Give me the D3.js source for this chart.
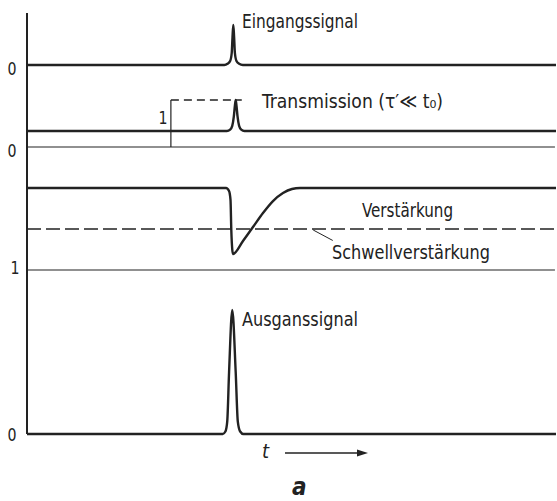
<!DOCTYPE html>
<html><head><meta charset="utf-8">
<script src="https://cdn.jsdelivr.net/npm/d3@7"></script>
<style>
html,body{margin:0;padding:0;background:#fff;}
svg text{font-family:"DejaVu Sans Condensed","Liberation Sans Narrow",sans-serif;fill:#222;}
</style></head><body>
<svg id="c" width="557" height="501"></svg>
<script>
// ---- data ----
const inputT = [0, 37.3, 37.9, 38.4, 38.7, 38.85, 39.0, 39.15, 39.3, 39.6, 40.1, 40.8, 100];
const inputV = [0, 0, 0.03, 0.1, 0.3, 0.7, 1.0, 0.7, 0.3, 0.1, 0.03, 0, 0];

const transT = [0, 37.8, 38.4, 38.8, 39.1, 39.3, 39.45, 39.6, 39.8, 40.1, 40.5, 41.1, 100];
const transV = [0.34, 0.34, 0.37, 0.45, 0.65, 0.88, 1.0, 0.88, 0.65, 0.45, 0.37, 0.34, 0.34];
const stepT = [27.2, 40.6];     // dashed "1" level of transmission
const transOne = 1;

const gainT = [0, 37.62, 38.19, 38.47, 38.62, 38.81, 38.94, 40.83, 42.72, 44.61, 46.5, 48.39, 50.09, 51.6, 100];
const gainV = [2.0, 2.0, 1.963, 1.854, 1.488, 1.244, 1.195, 1.354, 1.524, 1.695, 1.841, 1.939, 1.988, 2.0, 2.0];
const thresholdGain = 1.5;
const gainOne = 1;

const outT = [0, 37.0, 37.5, 37.85, 38.2, 38.8, 39.45, 39.85, 40.3, 40.9, 100];
const outV = [0, 0, 0.02, 0.1, 0.5, 1.0, 0.5, 0.1, 0.02, 0, 0];

const labels = {
  input: "Eingangssignal",
  trans: "Transmission (\u03c4\u2032\u226a t\u2080)",
  gain: "Verstärkung",
  thr: "Schwellverstärkung",
  out: "Ausganssignal"
};

// ---- scales ----
const x = d3.scaleLinear().domain([0, 100]).range([27, 556]);
const y1 = d3.scaleLinear().domain([0, 1]).range([65, 25]);
const y2 = d3.scaleLinear().domain([0, 1]).range([147, 100]);
const y3 = d3.scaleLinear().domain([1, 2]).range([270, 188]);
const y4 = d3.scaleLinear().domain([0, 1]).range([434, 310]);

const svg = d3.select("#c");
const ink = "#222";

function curve(T, V, ys, w) {
  const pts = T.map((t, i) => [t, V[i]]);
  svg.append("path").datum(pts)
    .attr("d", d3.line().x(d => x(d[0])).y(d => ys(d[1])).curve(d3.curveMonotoneX))
    .attr("fill", "none").attr("stroke", ink).attr("stroke-width", w)
    .attr("stroke-linejoin", "round");
}
function hline(t0, t1, ys, v, w, dash) {
  const l = svg.append("line")
    .attr("x1", x(t0)).attr("x2", x(t1)).attr("y1", ys(v)).attr("y2", ys(v))
    .attr("stroke", ink).attr("stroke-width", w);
  if (dash) l.attr("stroke-dasharray", dash);
}

// vertical axis
svg.append("line").attr("x1", x(0)).attr("x2", x(0)).attr("y1", 13).attr("y2", y4(0))
  .attr("stroke", ink).attr("stroke-width", 2);

// panel 1
curve(inputT, inputV, y1, 2.4);

// panel 2
hline(0, 99.8, y2, 0, 1.2);
svg.append("line").attr("x1", x(stepT[0])).attr("x2", x(stepT[0]))
  .attr("y1", y2(0)).attr("y2", y2(transOne)).attr("stroke", ink).attr("stroke-width", 1.2);
hline(stepT[0], stepT[1], y2, transOne, 1.3, "8,5");
curve(transT, transV, y2, 2.4);

// panel 3
hline(0, 99.8, y3, gainOne, 1.2);
hline(0, 100, y3, thresholdGain, 1.3, "14,5");
curve(gainT, gainV, y3, 2.4);
svg.append("line").attr("x1", x(54.1)).attr("y1", y3(thresholdGain) + 1)
  .attr("x2", x(57.8)).attr("y2", y3(1.36)).attr("stroke", ink).attr("stroke-width", 1);

// panel 4
curve(outT, outV, y4, 2.4);

// tick labels
function tick(txt, px, py) {
  svg.append("text").attr("x", px).attr("y", py).attr("text-anchor", "middle")
    .attr("dominant-baseline", "central").attr("font-size", 18)
    .attr("textLength", 9).attr("lengthAdjust", "spacingAndGlyphs").text(txt);
}
tick("0", 12, y1(0) + 3);
tick("0", 12, y2(0) + 3);
tick("1", x(stepT[0]) - 8, y2(0.62));
tick("1", 15, y3(gainOne) - 3);
tick("0", 12, y4(0));

// series labels
function label(txt, px, py, len, size) {
  return svg.append("text").attr("x", px).attr("y", py).attr("font-size", size || 20)
    .attr("textLength", len).attr("lengthAdjust", "spacingAndGlyphs").text(txt);
}
label(labels.input, 242, 28, 116);
label(labels.trans, 262, 108, 181);
label(labels.gain, 362, 217, 91);
label(labels.thr, 332, 259, 158);
label(labels.out, 242, 326, 116);

// time arrow
svg.append("text").attr("x", 262).attr("y", 458).attr("font-size", 20)
  .attr("font-style", "italic").text("t");
svg.append("line").attr("x1", 285).attr("x2", 360).attr("y1", 453).attr("y2", 453)
  .attr("stroke", ink).attr("stroke-width", 1.3);
svg.append("path").attr("d", "M357,449.5 L368,453 L357,456.5 Z").attr("fill", ink);

// panel letter
svg.append("text").attr("x", 292).attr("y", 495).attr("font-size", 24)
  .attr("font-weight", "bold").attr("font-style", "italic").text("a");
</script>
</body></html>
